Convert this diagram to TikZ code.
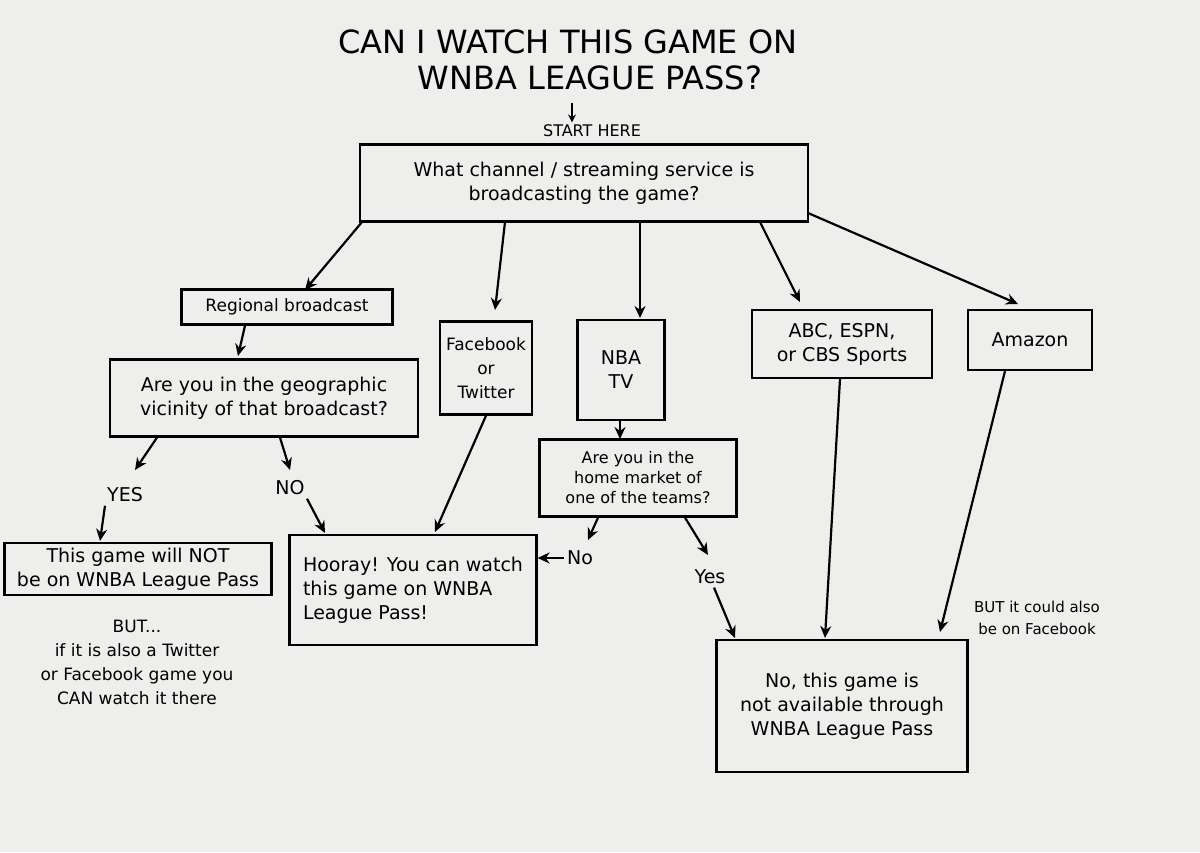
\documentclass[tikz,border=0pt]{standalone}
\usepackage{fontspec}
\setmainfont{DejaVu Sans}
\usetikzlibrary{arrows.meta}
\definecolor{paper}{HTML}{EEEEEC}
\begin{document}
\begin{tikzpicture}[x=1pt,y=-1pt,
  box/.style={draw,line width=2.2pt,inner sep=0pt,font=\fontsize{19}{24}\selectfont,align=center},
  lab/.style={font=\fontsize{19}{24}\selectfont,align=center},
  arr/.style={line width=2.2pt,-{Stealth[length=12pt,width=11pt]}}]
\fill[paper] (0,0) rectangle (1200,852);
\useasboundingbox (0,0) rectangle (1200,852);
\node[font=\fontsize{32}{40}\selectfont] (t1) at (568,42) {CAN I WATCH THIS GAME ON};
\node[font=\fontsize{32}{40}\selectfont] (t2) at (590,78) {WNBA LEAGUE PASS?};
\node[font=\fontsize{16}{20}\selectfont] (start) at (592,131) {START HERE};
\coordinate (sa) at (572,103);
\draw[line width=1.6pt,-{Stealth[length=8pt,width=8pt]}] (sa) -- ([yshift=-1pt]start.north -| sa);
\node[box,minimum width=448pt,minimum height=77pt] (q1) at (584,183) {What channel / streaming service is\\broadcasting the game?};
\node[box,minimum width=211pt,minimum height=35pt,font=\fontsize{17}{22}\selectfont] (reg) at (287,307) {Regional broadcast};
\node[box,minimum width=92pt,minimum height=93pt,font=\fontsize{17}{24}\selectfont] (fb) at (486,368) {Facebook\\or\\Twitter};
\node[box,minimum width=87pt,minimum height=100pt] (nba) at (621,370) {NBA\\TV};
\node[box,minimum width=180pt,minimum height=68pt] (abc) at (842,344) {ABC, ESPN,\\or CBS Sports};
\node[box,minimum width=124pt,minimum height=60pt] (amz) at (1030,340) {Amazon};
\node[box,minimum width=308pt,minimum height=77pt] (geo) at (264,398) {Are you in the geographic\\vicinity of that broadcast?};
\node[box,minimum width=197pt,minimum height=77pt,font=\fontsize{16}{20}\selectfont] (home) at (638,478) {Are you in the\\home market of\\one of the teams?};
\node[box,minimum width=267pt,minimum height=52pt] (not) at (138,569) {This game will NOT\\be on WNBA League Pass};
\node[lab,font=\fontsize{17}{24}\selectfont] (but) at (137,662) {BUT...\\if it is also a Twitter\\or Facebook game you\\CAN watch it there};
\node[box,minimum width=247pt,minimum height=110pt,align=left] (hoo) at (413,590) {Hooray! You can watch\\this game on WNBA\\League Pass!};
\node[box,minimum width=251pt,minimum height=132pt] (na) at (842,706) {No, this game is\\not available through\\WNBA League Pass};
\node[lab,font=\fontsize{15}{22}\selectfont] (butfb) at (1037,618) {BUT it could also\\be on Facebook};
\node[lab] (yes1) at (125,495) {YES};
\node[lab] (no1) at (290,488) {NO};
\node[lab] (no2) at (580,558) {No};
\node[lab] (yes2) at (710,577) {Yes};
\draw[arr] (362,222) -- (305,290);
\draw[arr] (505,222) -- (495,310);
\draw[arr] (640,222) -- (640,318);
\draw[arr] (760,222) -- (800,302);
\draw[arr] (808,213) -- (1018,304);
\draw[arr] (reg.south -| 245,0) -- (238,356);
\draw[arr] (fb.south) -- (435,532);
\draw[arr] (nba.south -| 620,0) -- (620,439);
\draw[arr] (geo.south -| 157,0) -- (135,470);
\draw[arr] (yes1.south -| 105,0) -- (100,541);
\draw[arr] (geo.south -| 280,0) -- (290,470);
\draw[arr] (no1.south -| 307,0) -- (325,533);
\draw[arr] (home.south -| 598,0) -- (588,540);
\draw[arr] (no2.west) -- (hoo.east |- no2);
\draw[arr] (home.south -| 685,0) -- (708,555);
\draw[arr] (yes2.south -| 714,0) -- (735,638);
\draw[arr] (abc.south -| 840,0) -- (825,638);
\draw[arr] (amz.south -| 1005,0) -- (940,632);
\end{tikzpicture}
\end{document}
